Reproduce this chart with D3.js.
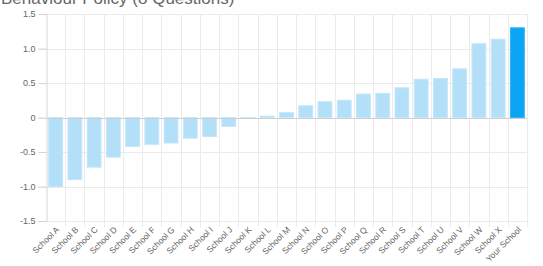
<!DOCTYPE html>
<meta charset="utf-8">
<html>
<script src="https://d3js.org/d3.v7.min.js"></script>
<style>
  body { margin: 0; background: #fff; }
</style>
<div id="chart"></div>
<script>

// data
var schools = ["School A", "School B", "School C", "School D", "School E", "School F", "School G",
  "School H", "School I", "School J", "School K", "School L", "School M", "School N", "School O",
  "School P", "School Q", "School R", "School S", "School T", "School U", "School V", "School W",
  "School X", "Your School"];
var scores = [-1.0, -0.9, -0.72, -0.575, -0.42, -0.39, -0.37, -0.3, -0.275, -0.13, -0.01, 0.02,
  0.07, 0.17, 0.23, 0.25, 0.34, 0.35, 0.43, 0.555, 0.565, 0.705, 1.07, 1.135, 1.3];
var yTicks = [-1.5, -1.0, -0.5, 0, 0.5, 1.0, 1.5];
var yTickLabels = ["-1.5", "-1.0", "-0.5", "0", "0.5", "1.0", "1.5"];

var width = 543,
    height = 266,
    margin = {top: 14, right: 16, bottom: 45, left: 46};

var svg = d3.select("#chart")
  .append("svg")
    .attr("width", width)
    .attr("height", height)
    .style("font-family", "Liberation Sans, Arial, sans-serif");

// title, sits partly above the top edge like the original
svg.append("text")
    .attr("x", 1)
    .attr("y", 4)
    .attr("font-size", "17px")
    .attr("fill", "#666")
    .text("Behaviour Policy (8 Questions)");

var x = d3.scaleBand()
  .domain(schools)
  .range([margin.left, width - margin.right]);

var y = d3.scaleLinear()
  .domain([-1.5, 1.5])
  .range([height - margin.bottom, margin.top]);

// horizontal grid
svg.append("g")
  .selectAll("line")
  .data(yTicks)
  .enter().append("line")
    .attr("x1", margin.left - 8)
    .attr("x2", width - margin.right)
    .attr("y1", function(d) { return Math.round(y(d)) + 0.5; })
    .attr("y2", function(d) { return Math.round(y(d)) + 0.5; })
    .attr("stroke", "#ebebeb");

// vertical grid at band edges
var edges = schools.map(function(d) { return x(d); }).concat([x.range()[1]]);
svg.append("g")
  .selectAll("line")
  .data(edges.slice(1))
  .enter().append("line")
    .attr("x1", function(d) { return Math.round(d) + 0.5; })
    .attr("x2", function(d) { return Math.round(d) + 0.5; })
    .attr("y1", margin.top)
    .attr("y2", height - margin.bottom + 6)
    .attr("stroke", "#ebebeb");

// bars
svg.append("g")
  .selectAll("rect")
  .data(scores)
  .enter().append("rect")
    .attr("x", function(d, i) { return x(schools[i]) + x.bandwidth() * 0.14; })
    .attr("width", x.bandwidth() * 0.72)
    .attr("y", function(d) { return y(Math.max(0, d)); })
    .attr("height", function(d) { return Math.abs(y(d) - y(0)); })
    .attr("fill", function(d, i) { return schools[i] == "Your School" ? "#0ba5f5" : "#b3e0f8"; })
    .attr("stroke", function(d, i) { return schools[i] == "Your School" ? "#2fb3f7" : "#c4e7fa"; })
    .attr("stroke-width", 1);

// zero line
svg.append("line")
    .attr("x1", margin.left)
    .attr("x2", width - margin.right)
    .attr("y1", Math.round(y(0)) + 0.5)
    .attr("y2", Math.round(y(0)) + 0.5)
    .attr("stroke", "#cfcfcf");

// y axis
var yAxis = svg.append("g")
    .attr("transform", "translate(" + (margin.left + 0.5) + ",0)")
    .call(d3.axisLeft(y).tickValues(yTicks)
      .tickFormat(function(d, i) { return yTickLabels[i]; })
      .tickSize(8).tickPadding(3));
yAxis.select(".domain").attr("stroke", "#d6d6d6");
yAxis.selectAll(".tick line").attr("stroke", "#d6d6d6");
yAxis.selectAll("text")
    .attr("fill", "#666")
    .style("font-size", "9px")
    .style("font-family", "Liberation Sans, Arial, sans-serif");

// x labels, rotated
svg.append("g")
  .selectAll("text")
  .data(schools)
  .enter().append("text")
    .attr("transform", function(d) {
      return "translate(" + (x(d) + x.bandwidth() / 2) + "," + (height - margin.bottom + 5) + ") rotate(-45)";
    })
    .attr("text-anchor", "end")
    .attr("dy", "0.7em")
    .attr("fill", "#666")
    .style("font-size", "8.5px")
    .text(function(d) { return d; });

</script>
</html>
